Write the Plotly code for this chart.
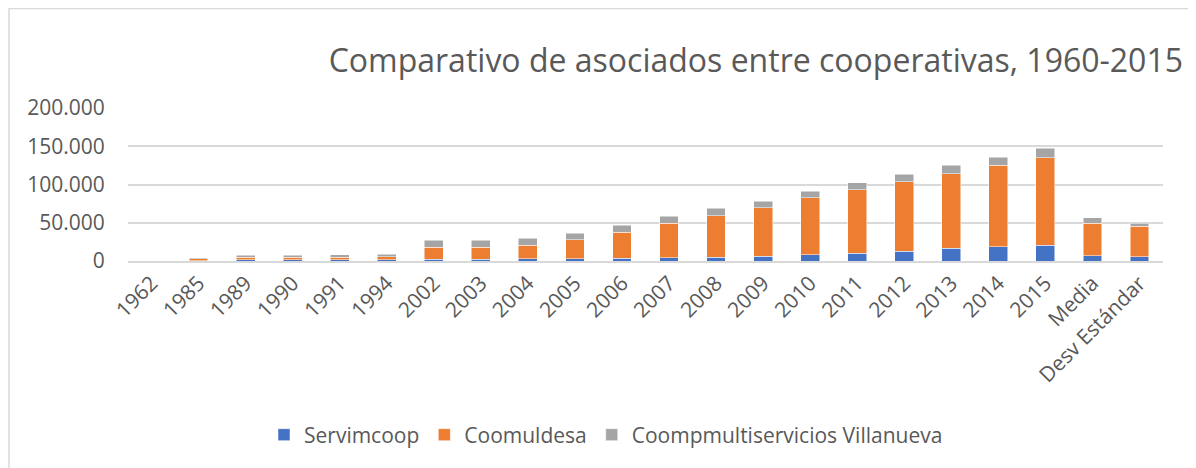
import plotly.graph_objects as go

categories = ["1962", "1985", "1989", "1990", "1991", "1994", "2002", "2003", "2004", "2005",
              "2006", "2007", "2008", "2009", "2010", "2011", "2012", "2013", "2014", "2015",
              "Media", "Desv Estándar"]
servimcoop = [100, 300, 1500, 1500, 1500, 1500, 2600, 2600, 3000, 3000,
              3900, 4300, 4800, 6100, 8300, 10400, 12900, 16800, 18500, 20700,
              6900, 5600]
coomuldesa = [200, 2500, 3500, 3500, 3600, 4000, 15700, 15700, 17900, 24800,
              33500, 44800, 54300, 63500, 74300, 82600, 90500, 97400, 106500, 114600,
              42200, 39700]
villanueva = [300, 1200, 2800, 2800, 2900, 3500, 8900, 9100, 8700, 8700,
              9100, 9200, 9600, 8200, 8700, 9600, 10000, 10800, 10800, 12100,
              7400, 3800]

font_family = "'Open Sans', sans-serif"
text_color = "#595959"

# page body has an 8px margin, so the figure is drawn 8px smaller
W, H = 1188, 460
L, R, T, B = 120, 1155, 100, 253
pw, ph = R - L, B - T

fig = go.Figure()
fig.add_trace(go.Bar(x=categories, y=servimcoop, name="Servimcoop",
                     marker=dict(color="#4472C4", line=dict(color="white", width=0.5))))
fig.add_trace(go.Bar(x=categories, y=coomuldesa, name="Coomuldesa",
                     marker=dict(color="#ED7D31", line=dict(color="white", width=0.5))))
fig.add_trace(go.Bar(x=categories, y=villanueva, name="Coompmultiservicios Villanueva",
                     marker=dict(color="#A5A5A5", line=dict(color="white", width=0.5))))

fig.update_layout(
    barmode="stack",
    bargap=0.6,
    width=W, height=H,
    margin=dict(l=L, r=W - R, t=T, b=H - B, autoexpand=False),
    paper_bgcolor="white",
    plot_bgcolor="white",
    separators=",.",
    font=dict(family=font_family, size=21, color=text_color),
    title=dict(text="Comparativo de asociados entre cooperativas, 1960-2015",
               x=1175 / W, xref="container", xanchor="right",
               y=1 - 53 / H, yanchor="middle",
               font=dict(size=32, color=text_color, family=font_family)),
    xaxis=dict(tickangle=-45, showgrid=False, showline=True, linecolor="#D9D9D9",
               linewidth=1.5, ticks="", automargin=False),
    yaxis=dict(range=[0, 200000], dtick=50000, tickformat=",d", showgrid=True,
               gridcolor="#D9D9D9", gridwidth=1.5, zeroline=False, showline=False,
               ticks="outside", ticklen=18, tickcolor="rgba(0,0,0,0)", automargin=False),
    legend=dict(orientation="h", x=(598 - L) / pw, xanchor="center",
                yref="container", y=1 - 427 / H, yanchor="middle",
                font=dict(size=21), traceorder="normal"),
    shapes=[dict(type="rect", xref="paper", yref="paper",
                 x0=(1 - L) / pw, x1=(1185 - L) / pw,
                 y0=(B - 470) / ph, y1=(B - 0.5) / ph,
                 line=dict(color="#D9D9D9", width=1.5), layer="below")],
)

fig.write_html("out.html")
